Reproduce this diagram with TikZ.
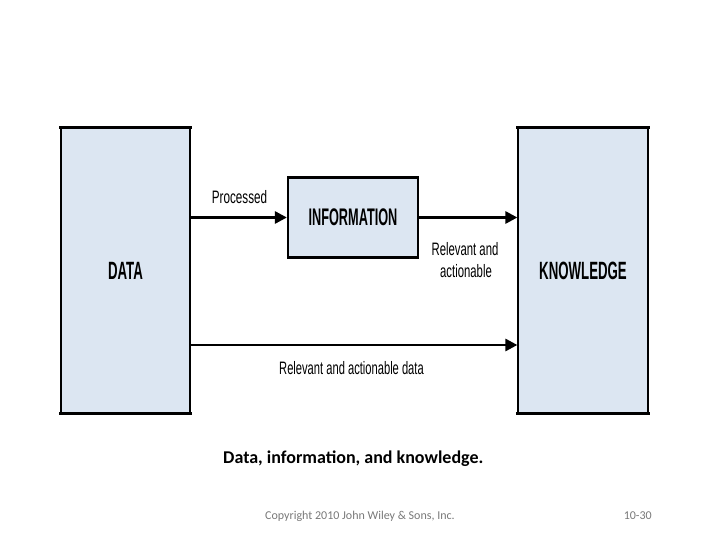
\documentclass[tikz,border=0pt]{standalone}
\usepackage{fontspec}
\setmainfont{Liberation Sans}
\newfontfamily\capfont{Carlito}
\usetikzlibrary{arrows.meta}
\definecolor{boxfill}{RGB}{220,230,242}
\definecolor{copygray}{RGB}{120,120,120}
\newcommand{\narrowtxt}[2]{\scalebox{#1}[1]{#2}}
\tikzset{
  bigbox/.style={draw=black, line width=1.2bp, fill=boxfill, inner sep=0pt, rectangle},
  heavyedge/.style={line width=3bp, black, line cap=rect},
  arr/.style={line width=2.8bp, -{Triangle[length=12bp,width=12bp]}},
  boldlab/.style={font=\fontsize{25bp}{27bp}\selectfont\bfseries},
  plainlab/.style={font=\fontsize{18bp}{20bp}\selectfont, inner sep=0pt, align=center},
}
\begin{document}
\begin{tikzpicture}[x=1bp,y=-1bp]
\useasboundingbox (0,0) rectangle (720,540);
% boxes
\node[bigbox, minimum width=129bp, minimum height=285bp] (data) at (125.5,270.5) {};
\node[boldlab] (datalab) at (data.center) {\narrowtxt{0.53}{DATA}};
\node[bigbox, minimum width=130bp, minimum height=285bp] (know) at (583,270.5) {};
\node[boldlab] (knowlab) at (know.center) {\narrowtxt{0.53}{KNOWLEDGE}};
\node[bigbox, line width=2.2bp, minimum width=130bp, minimum height=80bp] (info) at (353,217.5) {};
\node[boldlab, font=\fontsize{24bp}{26bp}\selectfont\bfseries] (infolab) at (info.center) {\narrowtxt{0.53}{INFORMATION}};
% heavy top and bottom edges
\draw[heavyedge] (data.north west) -- (data.north east);
\draw[heavyedge] (data.south west) -- (data.south east);
\draw[heavyedge] (know.north west) -- (know.north east);
\draw[heavyedge] (know.south west) -- (know.south east);
% connectors
\coordinate (lowy) at (0,345);
\draw[arr] (data.east |- info.west) -- (info.west);
\draw[arr] (info.east) -- (know.west |- info.east);
\draw[arr] (data.east |- lowy) -- (know.west |- lowy);
% labels
\node[plainlab] (proc) at (239.5,197) {\narrowtxt{0.65}{Processed}};
\node[plainlab] (rel1) at (465,249) {\narrowtxt{0.63}{Relevant and}};
\node[plainlab] (rel2) at (466,271) {\narrowtxt{0.63}{actionable}};
\node[plainlab] (rel3) at (351.5,368.5) {\narrowtxt{0.62}{Relevant and actionable data}};
% caption and footer
\node[anchor=west, inner sep=0pt, font=\capfont\fontsize{18bp}{20bp}\selectfont\bfseries] (cap) at (223,459) {Data, information, and knowledge.};
\node[anchor=west, inner sep=0pt, text=copygray, font=\capfont\fontsize{12bp}{14bp}\selectfont] (copy) at (265,516) {Copyright 2010 John Wiley \& Sons, Inc.};
\node[anchor=east, inner sep=0pt, text=copygray, font=\capfont\fontsize{12bp}{14bp}\selectfont] (page) at (652,516) {10-30};
\end{tikzpicture}
\end{document}
